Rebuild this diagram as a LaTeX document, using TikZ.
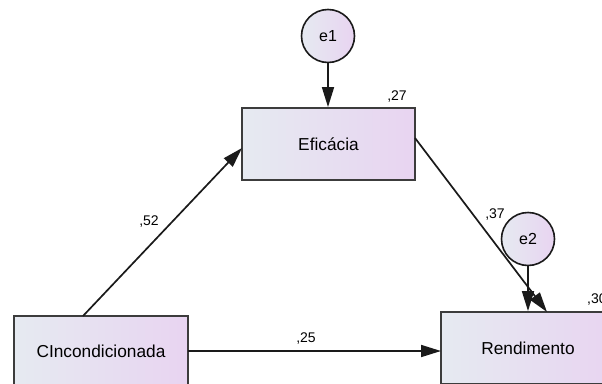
\documentclass[tikz,border=0pt]{standalone}
\usepackage{fontspec}
\setmainfont{Liberation Sans}
\usetikzlibrary{arrows.meta}
\definecolor{gl}{HTML}{E6EAF1}
\definecolor{gr}{HTML}{E8D4F1}
\definecolor{ln}{HTML}{1A1A1A}
\begin{document}
\begin{tikzpicture}[x=1pt,y=-1pt,
  box/.style={draw=ln!85!white,line width=1.8pt,left color=gl,right color=gr,shading angle=90,inner sep=0pt,font=\fontsize{17.3}{19}\selectfont},
  err/.style={circle,draw=ln,line width=1.6pt,left color=gl,right color=gr,minimum size=53pt,inner sep=0pt,font=\fontsize{16}{18}\selectfont},
  conn/.style={line width=1.7pt,draw=ln,-{Triangle[length=20pt,width=12pt]}},
  lbl/.style={font=\fontsize{14}{16}\selectfont,inner sep=1pt}]
\useasboundingbox (0,0) rectangle (602,383);
\clip (0,0) rectangle (602,383);
\node[box,minimum width=173pt,minimum height=72pt] (efi) at (328.5,144) {Eficácia};
\node[box,minimum width=174pt,minimum height=70pt] (cin) at (101,351) {CIncondicionada};
\node[box,minimum width=174pt,minimum height=72pt] (ren) at (528,348) {Rendimento};
\node[err] (e1) at (328,36) {e1};
\node[err] (e2) at (528,239) {e2};
\coordinate (cinT) at (83,316);
\coordinate (efiL) at (242,148);
\coordinate (efiR) at (415,138);
\coordinate (renT) at (547,312);
\coordinate (cinR) at (188,351);
\coordinate (renL) at (441,351);
\draw[conn] (e1) -- (efi.north -| e1);
\draw[conn] (e2) -- (ren.north -| e2);
\draw[conn] (cinT) -- (efiL);
\draw[conn] (efiR) -- (renT);
\draw[conn] (cinR) -- (renL);
\node[lbl] (l27) at (397,97) {,27};
\node[lbl] (l52) at (149,222) {,52};
\node[lbl] (l37) at (495,215) {,37};
\node[lbl] (l25) at (306,339) {,25};
\node[lbl,anchor=west] (l30) at (586,300) {,30};
\end{tikzpicture}
\end{document}
